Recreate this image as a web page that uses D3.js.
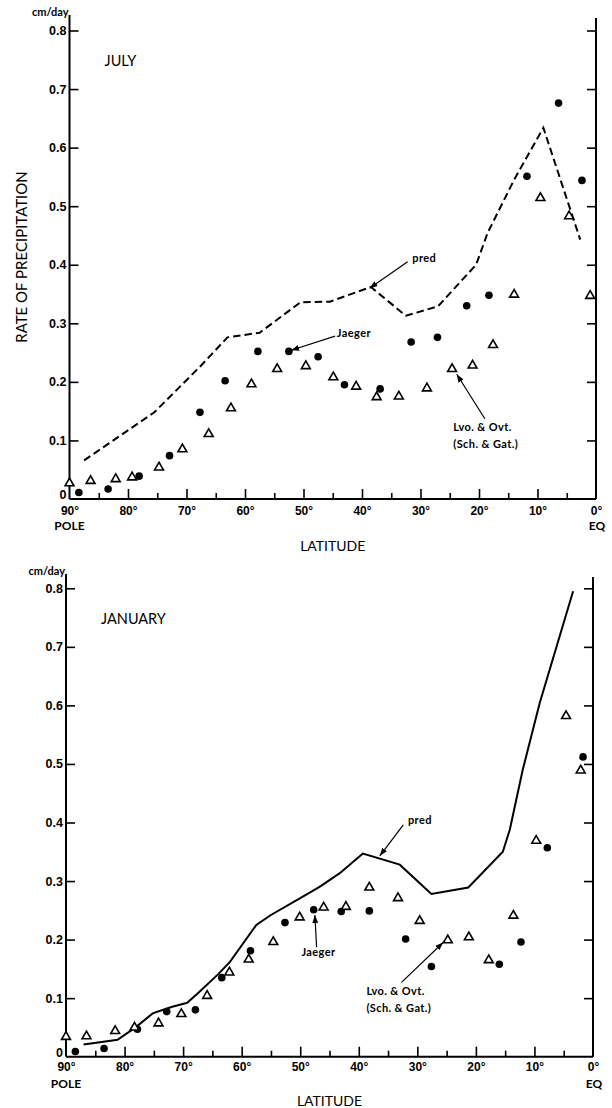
<!DOCTYPE html>
<html>
<head>
<meta charset="utf-8">
<script src="https://cdn.jsdelivr.net/npm/d3@7"></script>
<style>
  body { margin: 0; background: #fff; }
  svg { display: block; font-family: Lato, "DejaVu Sans", sans-serif; }
</style>
</head>
<body>
<div id="chart"></div>
<script>
// Axis values
const yTicks = [0, 0.1, 0.2, 0.3, 0.4, 0.5, 0.6, 0.7, 0.8];
const latTicks = [90, 80, 70, 60, 50, 40, 30, 20, 10, 0];
const latMinor = [85, 75, 65, 55, 45, 35, 25, 15, 5];

// JULY - predicted (dashed)
const julyPredLat = [87.5, 75.5, 67.5, 63, 57.5, 50.5, 45.5, 38.5, 32.5, 27, 20.5, 18.5, 14, 9, 2.7];
const julyPredVal = [0.066, 0.148, 0.228, 0.276, 0.284, 0.336, 0.337, 0.362, 0.313, 0.329, 0.400, 0.455, 0.545, 0.634, 0.443];

// JULY - Jaeger (dots)
const julyJaegerLat = [88.4, 83.4, 78.1, 72.9, 67.7, 63.4, 57.8, 52.5, 47.5, 43.0, 36.9, 31.6, 27.1, 22.1, 18.3, 11.8, 6.4, 2.4];
const julyJaegerVal = [0.011, 0.017, 0.039, 0.074, 0.148, 0.202, 0.252, 0.252, 0.243, 0.195, 0.188, 0.268, 0.276, 0.330, 0.348, 0.551, 0.676, 0.544];

// JULY - Lvovitch & Ovtchinnikov (triangles)
const julyLvoLat = [90.0, 86.4, 82.1, 79.3, 74.7, 70.7, 66.2, 62.4, 58.9, 54.5, 49.6, 44.9, 41.0, 37.5, 33.7, 28.9, 24.6, 21.1, 17.6, 14.0, 9.5, 4.6, 1.0];
const julyLvoVal = [0.027, 0.031, 0.034, 0.037, 0.054, 0.085, 0.111, 0.155, 0.196, 0.222, 0.227, 0.208, 0.192, 0.174, 0.175, 0.189, 0.222, 0.228, 0.263, 0.349, 0.514, 0.483, 0.347];

// JANUARY - predicted (solid)
const janPredLat = [87, 81.2, 78, 75.2, 72, 69.3, 67.2, 64, 62, 57.5, 55, 50, 46.7, 43.3, 39.3, 33, 27.6, 21.3, 15.4, 14.2, 12, 9.1, 3.4];
const janPredVal = [0.021, 0.029, 0.051, 0.074, 0.085, 0.092, 0.111, 0.141, 0.162, 0.225, 0.242, 0.271, 0.290, 0.313, 0.347, 0.328, 0.278, 0.289, 0.350, 0.388, 0.490, 0.604, 0.795];

// JANUARY - Jaeger (dots)
const janJaegerLat = [88.4, 83.5, 77.8, 72.8, 67.9, 63.4, 58.5, 52.6, 47.7, 43.0, 38.2, 32.0, 27.6, 16.0, 12.3, 7.8, 1.7];
const janJaegerVal = [0.009, 0.014, 0.047, 0.077, 0.080, 0.135, 0.181, 0.229, 0.251, 0.248, 0.249, 0.201, 0.154, 0.158, 0.196, 0.357, 0.512];

// JANUARY - Lvovitch & Ovtchinnikov (triangles)
const janLvoLat = [90.0, 86.5, 81.6, 78.3, 74.2, 70.3, 65.9, 62.1, 58.8, 54.6, 50.1, 46.0, 42.2, 38.2, 33.3, 29.6, 24.8, 21.2, 17.8, 13.6, 9.7, 4.6, 2.1];
const janLvoVal = [0.034, 0.035, 0.044, 0.050, 0.057, 0.073, 0.104, 0.144, 0.166, 0.196, 0.238, 0.255, 0.256, 0.289, 0.271, 0.232, 0.199, 0.204, 0.165, 0.241, 0.369, 0.582, 0.489];

const zip = (a, b) => a.map((v, i) => [v, b[i]]);

const width = 612, height = 1108;
const svg = d3.select('#chart').append('svg')
  .attr('width', width)
  .attr('height', height);

svg.append('defs').append('marker')
  .attr('id', 'arrow')
  .attr('markerUnits', 'userSpaceOnUse')
  .attr('markerWidth', 8)
  .attr('markerHeight', 6)
  .attr('refX', 8)
  .attr('refY', 3)
  .attr('orient', 'auto')
  .append('path')
  .attr('d', 'M0,0L8,3L0,6Z')
  .attr('fill', '#000');

const yFormat = d => d === 0 ? '0' : d.toFixed(1);

function drawPanel(p) {
  const x = d3.scaleLinear().domain([90, 0]).range([p.left, p.right]);
  const y = d3.scaleLinear().domain([0, 0.8]).range([p.base, p.top8]);
  const g = svg.append('g');

  //Axis frame lines
  g.append('line')
    .attr('x1', x(90)).attr('x2', x(90))
    .attr('y1', p.axisTop).attr('y2', p.base)
    .attr('stroke', '#000').attr('stroke-width', 2);
  g.append('line')
    .attr('x1', x(0)).attr('x2', x(0))
    .attr('y1', p.axisTop + 3).attr('y2', p.base)
    .attr('stroke', '#000').attr('stroke-width', 2);
  g.append('line')
    .attr('x1', x(90)).attr('x2', x(0))
    .attr('y1', p.base).attr('y2', p.base)
    .attr('stroke', '#000').attr('stroke-width', 2);

  //Left axis with labels
  const yl = g.append('g')
    .attr('transform', 'translate(' + x(90) + ',0)')
    .call(d3.axisLeft(y).tickValues(yTicks).tickSize(-9).tickPadding(3).tickFormat(yFormat));

  //Right axis, ticks only
  const yr = g.append('g')
    .attr('transform', 'translate(' + x(0) + ',0)')
    .call(d3.axisLeft(y).tickValues(yTicks.slice(1)).tickSize(9).tickFormat(''));

  //Bottom axis major + minor
  const xb = g.append('g')
    .attr('transform', 'translate(0,' + p.base + ')')
    .call(d3.axisBottom(x).tickValues(latTicks).tickSize(-10).tickPadding(p.xPad).tickFormat(d => d + '°'));

  const xm = g.append('g')
    .attr('transform', 'translate(0,' + p.base + ')')
    .call(d3.axisBottom(x).tickValues(latMinor).tickSize(-6).tickFormat(''));

  [yl, yr, xb, xm].forEach(a => {
    a.select('.domain').remove();
    a.selectAll('.tick line').attr('stroke', '#000').attr('stroke-width', 1.6);
    a.selectAll('.tick text')
      .attr('fill', '#000')
      .style('font-size', '12.5px')
      .style('font-weight', 700);
  });
  xb.selectAll('.tick text').style('font-size', '12px');
  yl.selectAll('.tick line').filter(d => d === 0).remove();
  //Keep the "0" just above the baseline so it clears "90°"
  yl.selectAll('.tick text').filter(d => d === 0).attr('dy', '-0.05em');
  xb.selectAll('.tick line').filter(d => d === 90 || d === 0).remove();

  //Units and labels
  g.append('text')
    .attr('x', x(90) - 1).attr('y', p.axisTop + 1)
    .attr('text-anchor', 'end')
    .style('font-size', '11px').style('font-weight', 700)
    .text('cm/day');

  g.append('text')
    .attr('x', x(90) + 35).attr('y', y(0.8) + 35.5)
    .style('font-size', '14.5px')
    .text(p.month);

  g.append('text')
    .attr('x', x(90)).attr('y', p.base + 31)
    .attr('text-anchor', 'middle')
    .style('font-size', '12px').style('font-weight', 700)
    .text('POLE');

  g.append('text')
    .attr('x', x(0) + 1).attr('y', p.base + 31)
    .attr('text-anchor', 'middle')
    .style('font-size', '12px').style('font-weight', 700)
    .text('EQ');

  g.append('text')
    .attr('x', x(45)).attr('y', p.base + p.latY)
    .attr('text-anchor', 'middle')
    .style('font-size', '14px')
    .text('LATITUDE');

  //Predicted line
  const line = d3.line()
    .x(d => x(d[0]))
    .y(d => y(d[1]));

  g.append('path')
    .datum(zip(p.predLat, p.predVal))
    .attr('fill', 'none')
    .attr('stroke', '#000')
    .attr('stroke-width', 2)
    .attr('stroke-dasharray', p.dashed ? '7.5,4' : null)
    .attr('d', line);

  //Jaeger dots
  g.selectAll('.dot')
    .data(zip(p.jaegerLat, p.jaegerVal))
    .enter()
    .append('circle')
    .attr('class', 'dot')
    .attr('cx', d => x(d[0]))
    .attr('cy', d => y(d[1]))
    .attr('r', 3.8)
    .attr('fill', '#000');

  //Lvo. & Ovt. triangles
  const tri = d3.symbol().type(d3.symbolTriangle).size(34);
  g.selectAll('.tri')
    .data(zip(p.lvoLat, p.lvoVal))
    .enter()
    .append('path')
    .attr('class', 'tri')
    .attr('transform', d => 'translate(' + x(d[0]) + ',' + y(d[1]) + ')')
    .attr('d', tri)
    .attr('fill', '#fff')
    .attr('stroke', '#000')
    .attr('stroke-width', 1.6);

  //Annotations, anchored in data units
  p.notes.forEach(n => {
    g.append('line')
      .attr('x1', x(n.from[0])).attr('y1', y(n.from[1]))
      .attr('x2', x(n.to[0])).attr('y2', y(n.to[1]))
      .attr('stroke', '#000').attr('stroke-width', 1.2)
      .attr('marker-end', 'url(#arrow)');
    n.lines.forEach((t, i) => {
      g.append('text')
        .attr('x', x(n.at[0])).attr('y', y(n.at[1]) + i * 16.5)
        .style('font-size', '11px').style('font-weight', 700)
        .style('letter-spacing', '0.4px')
        .text(t);
    });
  });

  return { x, y };
}

const julyPanel = drawPanel({
  month: 'JULY',
  left: 69.5, right: 596, base: 499, top8: 30.5, axisTop: 15, xPad: 7, latY: 52,
  dashed: true,
  predLat: julyPredLat, predVal: julyPredVal,
  jaegerLat: julyJaegerLat, jaegerVal: julyJaegerVal,
  lvoLat: julyLvoLat, lvoVal: julyLvoVal,
  notes: [
    { lines: ['pred'], at: [31.4, 0.404], from: [32.2, 0.405], to: [38.7, 0.360] },
    { lines: ['Jaeger'], at: [44.3, 0.276], from: [44.6, 0.278], to: [52.1, 0.254] },
    { lines: ['Lvo. & Ovt.', '(Sch. & Gat.)'], at: [24.4, 0.116], from: [19.0, 0.137], to: [23.8, 0.213] }
  ]
});

// Y title for the upper panel
svg.append('text')
  .attr('transform', 'translate(' + (julyPanel.x(90) - 43) + ',' + 257 + ') rotate(-90)')
  .attr('text-anchor', 'middle')
  .style('font-size', '15px')
  .text('RATE OF PRECIPITATION');

drawPanel({
  month: 'JANUARY',
  left: 66, right: 593, base: 1056.7, top8: 588.3, axisTop: 574, xPad: 6, latY: 49.5,
  dashed: false,
  predLat: janPredLat, predVal: janPredVal,
  jaegerLat: janJaegerLat, jaegerVal: janJaegerVal,
  lvoLat: janLvoLat, lvoVal: janLvoVal,
  notes: [
    { lines: ['pred'], at: [31.6, 0.398], from: [32.4, 0.396], to: [36.4, 0.343] },
    { lines: ['Jaeger'], at: [49.8, 0.172], from: [47.2, 0.187], to: [47.5, 0.242] },
    { lines: ['Lvo. & Ovt.', '(Sch. & Gat.)'], at: [38.7, 0.105], from: [32.7, 0.127], to: [25.6, 0.195] }
  ]
});
</script>
</body>
</html>
